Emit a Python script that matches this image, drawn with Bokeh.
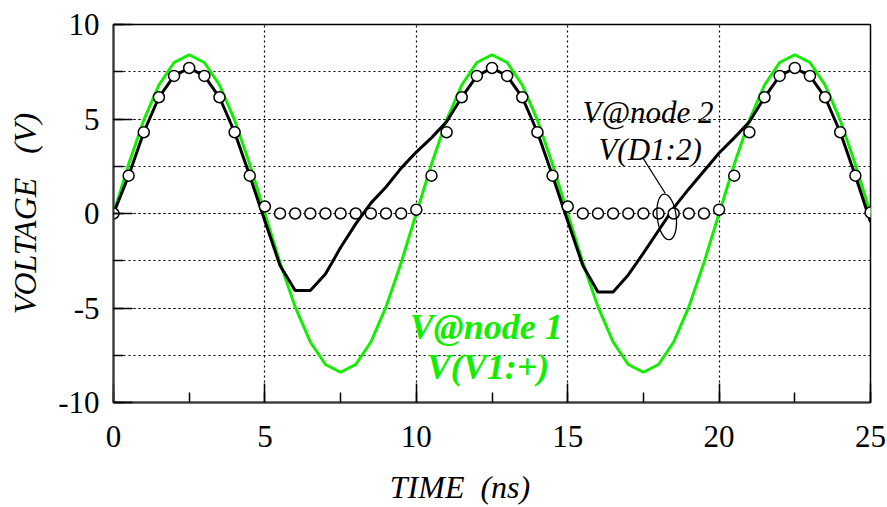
from bokeh.plotting import figure
from bokeh.models import SingleIntervalTicker, Range1d, Label
from bokeh.embed import file_html
from bokeh.resources import INLINE

# ---- data ----
time_ns = [0.0, 0.5, 1.0, 1.5, 2.0, 2.5, 3.0, 3.5, 4.0, 4.5,
           5.0, 5.5, 6.0, 6.5, 7.0, 7.5, 8.0, 8.5, 9.0, 9.5,
           10.0, 10.5, 11.0, 11.5, 12.0, 12.5, 13.0, 13.5, 14.0, 14.5,
           15.0, 15.5, 16.0, 16.5, 17.0, 17.5, 18.0, 18.5, 19.0, 19.5,
           20.0, 20.5, 21.0, 21.5, 22.0, 22.5, 23.0, 23.5, 24.0, 24.5, 25.0]

# V(V1:+)  -- node 1 (green)
v_node1 = [0.0, 2.6, 4.94, 6.8, 7.99, 8.4, 7.99, 6.8, 4.94, 2.6,
           0.0, -2.6, -4.94, -6.8, -7.99, -8.4, -7.99, -6.8, -4.94, -2.6,
           0.0, 2.6, 4.94, 6.8, 7.99, 8.4, 7.99, 6.8, 4.94, 2.6,
           0.0, -2.6, -4.94, -6.8, -7.99, -8.4, -7.99, -6.8, -4.94, -2.6,
           0.0, 2.6, 4.94, 6.8, 7.99, 8.4, 7.99, 6.8, 4.94, 2.6, 0.0]

# V(D1:2)  -- node 2 (black line)
v_node2 = [0.0, 2.0, 4.3, 6.15, 7.28, 7.7, 7.28, 6.15, 4.3, 2.0,
           -0.4, -2.75, -4.07, -4.07, -3.2, -1.8, -0.55, 0.55, 1.4, 2.4,
           3.25, 4.0, 4.85, 6.15, 7.28, 7.7, 7.28, 6.15, 4.3, 2.0,
           -0.4, -2.75, -4.15, -4.15, -3.25, -2.1, -0.9, 0.3, 1.3, 2.25,
           3.2, 4.0, 4.85, 6.15, 7.28, 7.7, 7.28, 6.15, 4.3, 2.0, -0.45]

# sampled markers (open circles)
v_markers = [0.0, 2.0, 4.3, 6.15, 7.28, 7.7, 7.28, 6.15, 4.3, 2.0,
             0.37, 0.0, 0.0, 0.0, 0.0, 0.0, 0.0, 0.0, 0.0, 0.0,
             0.2, 2.0, 4.3, 6.15, 7.28, 7.7, 7.28, 6.15, 4.3, 2.0,
             0.37, 0.0, 0.0, 0.0, 0.0, 0.0, 0.0, 0.0, 0.0, 0.0,
             0.2, 2.0, 4.3, 6.15, 7.28, 7.7, 7.28, 6.15, 4.3, 2.0, 0.05]

y_tick_labels = {-10: "-10", -5: "-5", 0: "0", 5: "5", 10: "10"}
NB = "\u00a0"
x_label = "TIME" + NB * 2 + "(ns)" + NB * 8
y_label = "VOLTAGE" + NB * 3 + "(V)"
node2_lines = ["V@node 2", "V(D1:2)"]
node1_lines = ["V@node 1", "V(V1:+)"]

SERIF = "Liberation Serif"
GREEN = "#11ee00"

p = figure(width=887, height=507,
           x_range=Range1d(0, 25), y_range=Range1d(-10, 10),
           output_backend="svg", toolbar_location=None,
           min_border_left=113, min_border_right=17,
           min_border_top=24, min_border_bottom=105)
p.background_fill_color = "white"
p.border_fill_color = "white"
p.outline_line_color = "black"
p.outline_line_width = 1.5

xt = SingleIntervalTicker(interval=5, num_minor_ticks=2)
yt = SingleIntervalTicker(interval=5, num_minor_ticks=2)
p.xaxis.ticker = xt
p.yaxis.ticker = yt
p.xgrid.ticker = xt
p.ygrid.ticker = yt

for g in (p.xgrid, p.ygrid):
    g.grid_line_color = "black"
    g.grid_line_dash = "2 3"
    g.grid_line_width = 1.2
p.ygrid.minor_grid_line_color = "black"
p.ygrid.minor_grid_line_dash = "2 3"
p.ygrid.minor_grid_line_width = 1.2

for ax in (p.xaxis, p.yaxis):
    ax.axis_line_color = "#333333"
    ax.axis_line_width = 2
    ax.major_tick_in = 19
    ax.major_tick_out = 0
    ax.minor_tick_in = 10
    ax.minor_tick_out = 0
    ax.major_tick_line_color = "black"
    ax.major_tick_line_width = 1.5
    ax.minor_tick_line_color = "black"
    ax.minor_tick_line_width = 1.5
    ax.major_label_text_font = SERIF
    ax.major_label_text_font_size = "31px"
    ax.major_label_text_color = "black"
    ax.axis_label_text_font = SERIF
    ax.axis_label_text_font_style = "italic"
    ax.axis_label_text_font_size = "32px"
    ax.axis_label_text_color = "black"

p.yaxis.major_label_overrides = y_tick_labels
p.xaxis.axis_label = x_label
p.yaxis.axis_label = y_label
p.xaxis.major_label_standoff = 23
p.xaxis.axis_label_standoff = 19
p.yaxis.major_label_standoff = 14
p.yaxis.axis_label_standoff = 12

# series
p.line(time_ns, v_node1, line_color=GREEN, line_width=3)
p.line(time_ns, v_node2, line_color="black", line_width=3)
p.scatter(time_ns, v_markers, size=11, marker="circle",
          fill_color="white", line_color="black", line_width=1.5)

# annotations
p.ellipse(x=[18.27], y=[-0.18], width=19, height=46,
          width_units="screen", height_units="screen", angle=0.12,
          fill_color=None, line_color="black", line_width=1.3)
p.segment(x0=[17.48], y0=[2.95], x1=[18.22], y1=[1.07],
          line_color="black", line_width=1.3)

for txt, x, y in zip(node2_lines, [17.65, 17.72], [5.36, 3.37]):
    p.add_layout(Label(x=x, y=y, text=txt, text_font=SERIF,
                       text_font_style="italic", text_font_size="31px",
                       text_color="black", text_align="center",
                       text_baseline="alphabetic"))
for txt, x, y in zip(node1_lines, [12.31, 12.37], [-6.02, -8.13]):
    p.add_layout(Label(x=x, y=y, text=txt, text_font=SERIF,
                       text_font_style="bold italic", text_font_size="36px",
                       text_color=GREEN, text_align="center",
                       text_baseline="alphabetic"))

open("out.html", "w").write(file_html(p, INLINE))
